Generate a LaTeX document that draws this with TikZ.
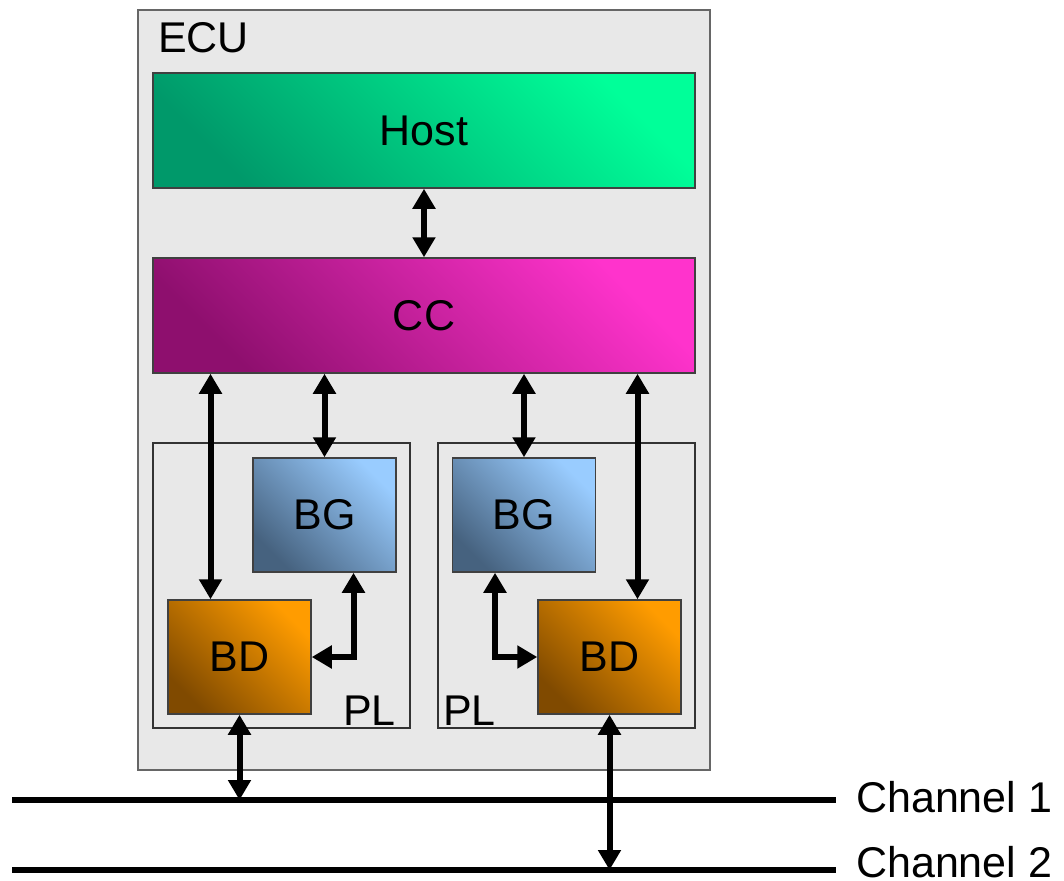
\documentclass[tikz,border=0pt]{standalone}
\usepackage{fontspec}
\setmainfont{Liberation Sans}
\usetikzlibrary{arrows.meta,calc}
\definecolor{ecufill}{HTML}{E8E8E8}
\definecolor{hostdark}{HTML}{00996A}
\definecolor{hostlight}{HTML}{00FF99}
\definecolor{ccdark}{HTML}{8E0F6E}
\definecolor{cclight}{HTML}{FF33CC}
\definecolor{bgdark}{HTML}{46627F}
\definecolor{bglight}{HTML}{99CCFF}
\definecolor{bddark}{HTML}{804A00}
\definecolor{bdlight}{HTML}{FF9C00}
\begin{document}
\begin{tikzpicture}[x=1pt,y=-1pt,
  every node/.style={font=\fontsize{43}{50}\selectfont, inner sep=0pt},
  blk/.style={draw=black!75, line width=1.5pt, shading=axis},
  hostbox/.style={blk, minimum width=542pt, minimum height=115pt, top color=hostdark, bottom color=hostlight, shading angle=135},
  ccbox/.style={blk, minimum width=542pt, minimum height=115pt, top color=ccdark, bottom color=cclight, shading angle=135},
  bgbox/.style={blk, minimum width=143pt, minimum height=114pt, top color=bgdark, bottom color=bglight, shading angle=135},
  bdbox/.style={blk, minimum width=143pt, minimum height=114pt, top color=bddark, bottom color=bdlight, shading angle=135},
  ecubox/.style={draw=black!60, line width=2pt, fill=ecufill},
  plbox/.style={draw=black!80, line width=1.3pt},
  arr/.style={line width=6pt, {Triangle[width=22pt,length=20pt]}-{Triangle[width=22pt,length=20pt]}},
  chan/.style={line width=6.5pt}
]
\useasboundingbox (0,0) rectangle (1064,880);
% ECU container
\node[ecubox, minimum width=572pt, minimum height=760pt] (ecu) at (424,390) {};
\node[anchor=base west] (ecul) at (158,53) {ECU};
% PL boxes
\node[plbox, minimum width=257pt, minimum height=285pt] (pl1) at (281.5,585.5) {};
\node[plbox, minimum width=257pt, minimum height=285pt] (pl2) at (566.5,585.5) {};
\node[anchor=base east] (pl1l) at (396,725) {PL};
\node[anchor=base west] (pl2l) at (443,725) {PL};
% main blocks
\node[hostbox] (host) at (424,130.5) {Host};
\node[ccbox] (cc) at (424,315.5) {CC};
\node[bgbox] (bg1) at (324.5,515) {BG};
\node[bgbox] (bg2) at (524,515) {BG};
\node[bdbox] (bd1) at (239.5,657) {BD};
\node[bdbox] (bd2) at (609.5,657) {BD};
% channels
\coordinate (c1l) at (12,800);
\coordinate (c1r) at (836,800);
\coordinate (c2l) at (12,870);
\coordinate (c2r) at (836,870);
\draw[chan] (c1l) -- (c1r);
\draw[chan] (c2l) -- (c2r);
\node[anchor=west] (c1t) at (856,797) {Channel 1};
\node[anchor=west] (c2t) at (856,862) {Channel 2};
% connectors
\draw[arr] (host.south) -- (cc.north);
\draw[arr] (cc.south -| bg1.north) -- (bg1.north);
\draw[arr] (cc.south -| bg2.north) -- (bg2.north);
\draw[arr] ([xshift=-29pt]bd1.north |- cc.south) -- ([xshift=-29pt]bd1.north);
\draw[arr] ([xshift=28pt]bd2.north |- cc.south) -- ([xshift=28pt]bd2.north);
\draw[arr] ([xshift=29pt]bg1.south) |- (bd1.east);
\draw[arr] ([xshift=-29pt]bg2.south) |- (bd2.west);
\draw[arr] (bd1.south) -- (bd1.south |- c1l);
\draw[arr] (bd2.south) -- (bd2.south |- c2l);
\end{tikzpicture}
\end{document}
